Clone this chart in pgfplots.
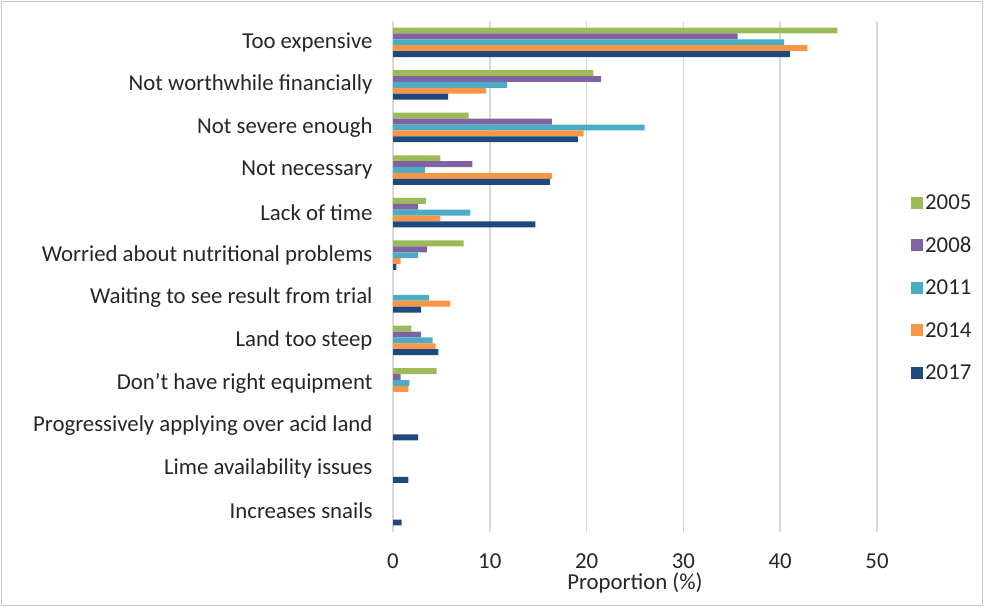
\documentclass[border=0pt]{standalone}
\usepackage{pgfplots}
\pgfplotsset{compat=1.18}
\usepackage{fontspec}
\setmainfont{Carlito}

\definecolor{c05}{HTML}{9BBB59}
\definecolor{c08}{HTML}{8064A2}
\definecolor{c11}{HTML}{4BACC6}
\definecolor{c14}{HTML}{F79646}
\definecolor{c17}{HTML}{1F497D}
\definecolor{gridgray}{HTML}{D9D9D9}
\definecolor{txt}{HTML}{262626}

\newcommand{\chartfont}{\fontsize{22.8}{27}\selectfont}

\begin{document}
\begin{tikzpicture}[x=1pt,y=1pt]
\useasboundingbox (0,0) rectangle (984,607);
\draw[color=gray!45, line width=1pt] (1.5,1.5) rectangle (982.5,605.5);
\begin{axis}[
  at={(393pt,75pt)}, anchor=south west,
  scale only axis, width=484pt, height=511pt,
  xbar, bar width=5.9pt,
  xmin=0, xmax=50, xtick={0,10,...,50},
  ymin=-0.5, ymax=11.5, y dir=reverse,
  ytick={0,...,11},
  yticklabels={Too expensive, Not worthwhile financially, Not severe enough,
    Not necessary, Lack of time, Worried about nutritional problems,
    Waiting to see result from trial, Land too steep,
    Don't have right equipment, Progressively applying over acid land,
    Lime availability issues, Increases snails},
  axis line style={draw=none},
  major tick length=0pt,
  xmajorgrids, grid style={draw=gridgray, line width=1.5pt},
  /pgf/number format/assume math mode=true,
  tick label style={font=\chartfont, text=txt},
  yticklabel style={xshift=-17pt},
  xticklabel style={anchor=base, inner sep=0pt, yshift=-36pt},
  xlabel={Proportion (\%)},
  xlabel style={font=\chartfont, text=txt, inner sep=0pt,
    at={(axis description cs:0.5,0)}, anchor=center, yshift=-51pt},
  legend style={at={(1.064,0.478)}, anchor=west, draw=none, fill=none,
    row sep=22pt, font=\chartfont, text=txt},
  legend cell align=left,
  legend image code/.code={\fill[#1,draw=none] (0pt,-6pt) rectangle (12pt,6pt);},
]
% 2005
\addplot[fill=c05, draw=none, bar shift=11.8pt] coordinates {
  (45.9,0) (20.7,1) (7.8,2) (4.9,3) (3.4,4) (7.3,5) (1.9,7) (4.5,8)};
% 2008
\addplot[fill=c08, draw=none, bar shift=5.9pt] coordinates {
  (35.6,0) (21.5,1) (16.4,2) (8.2,3) (2.6,4) (3.5,5) (2.9,7) (0.8,8)};
% 2011
\addplot[fill=c11, draw=none, bar shift=0pt] coordinates {
  (40.4,0) (11.8,1) (26.0,2) (3.3,3) (8.0,4) (2.6,5) (3.7,6) (4.1,7) (1.7,8)};
% 2014
\addplot[fill=c14, draw=none, bar shift=-5.9pt] coordinates {
  (42.8,0) (9.6,1) (19.7,2) (16.4,3) (4.9,4) (0.8,5) (5.9,6) (4.4,7) (1.6,8)};
% 2017
\addplot[fill=c17, draw=none, bar shift=-11.8pt] coordinates {
  (41.0,0) (5.7,1) (19.1,2) (16.2,3) (14.7,4) (0.35,5) (2.9,6) (4.7,7)
  (2.6,9) (1.6,10) (0.9,11)};
\legend{2005,2008,2011,2014,2017}
\end{axis}
\end{tikzpicture}
\end{document}
